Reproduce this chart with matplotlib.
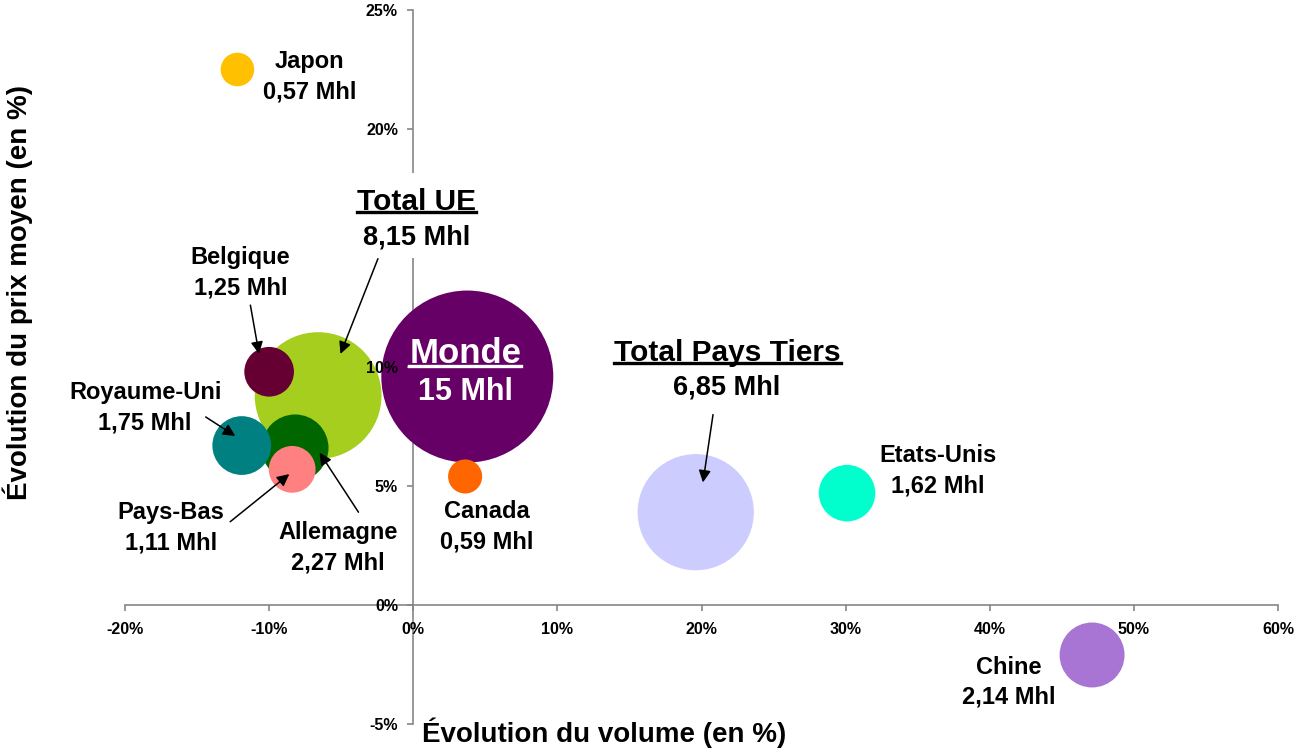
import matplotlib.pyplot as plt
from matplotlib.lines import Line2D
from matplotlib.patches import Rectangle
from matplotlib.ticker import FuncFormatter, MultipleLocator

plt.rcParams['font.family'] = ['Liberation Sans', 'DejaVu Sans']
plt.rcParams['font.weight'] = 'bold'

# data, in drawing order (big bubbles first)
names = ["Total UE", "Monde", "Total Pays Tiers", "Belgique", "Allemagne",
         "Royaume-Uni", "Pays-Bas", "Canada", "Japon", "Etats-Unis", "Chine"]
volume_mhl = [8.15, 15, 6.85, 1.25, 2.27, 1.75, 1.11, 0.59, 0.57, 1.62, 2.14]
vol_change = [-6.6, 3.75, 19.6, -10.0, -8.2, -11.9, -8.4, 3.6, -12.2, 30.1, 47.1]
price_change = [8.8, 9.6, 3.9, 9.8, 6.6, 6.7, 5.7, 5.4, 22.5, 4.7, -2.1]
colors = ["#A6CE1E", "#660066", "#CCCCFF", "#660033", "#006600",
          "#008080", "#FF8080", "#FF6600", "#FFC000", "#00FFCC", "#A975D4"]

# label placement (data coords)
label_pos = {
    "Japon": (-7.2, 22.2),
    "Belgique": (-12.0, 13.95),
    "Royaume-Uni": (-18.6, 8.3),
    "Pays-Bas": (-16.8, 3.25),
    "Allemagne": (-5.2, 2.4),
    "Canada": (5.1, 3.3),
    "Etats-Unis": (36.4, 5.65),
    "Chine": (41.3, -3.25),
}
title_pos = {
    "Total UE": ((0.2, 16.95), (0.25, 15.45), "black", 21.5, 19.5),
    "Total Pays Tiers": ((21.8, 10.6), (21.75, 9.15), "black", 21.5, 19.5),
    "Monde": ((3.6, 10.55), (3.6, 8.95), "white", 25, 22),
}
arrows = {
    "Belgique": ((-11.3, 12.6), (-10.7, 10.55)),
    "Total UE": ((-2.45, 14.55), (-5.05, 10.55)),
    "Royaume-Uni": ((-14.4, 7.9), (-12.35, 7.1)),
    "Pays-Bas": ((-12.7, 3.5), (-8.6, 5.5)),
    "Allemagne": ((-3.8, 3.9), (-6.5, 6.4)),
    "Total Pays Tiers": ((20.8, 8.0), (20.1, 5.15)),
}


def fmt_vol(v):
    return f"{v:g}".replace(".", ",") + " Mhl"


def fmt_y(v, pos):
    # the 15% label sits under the "Total UE" box in the original
    return "" if round(v) == 15 else f"{v:.0f}%"


fig = plt.figure(figsize=(12.98, 7.49), dpi=100)
ax = fig.add_axes([125 / 1298, 25 / 749, 1153 / 1298, 714 / 749])

ax.scatter(vol_change, price_change, s=[1022 * v for v in volume_mhl],
           c=colors, linewidths=0, zorder=1)

ax.set_xlim(-20, 60)
ax.set_ylim(-5, 25)
ax.xaxis.set_major_locator(MultipleLocator(10))
ax.yaxis.set_major_locator(MultipleLocator(5))
ax.xaxis.set_major_formatter(FuncFormatter(lambda v, p: f"{v:.0f}%"))
ax.yaxis.set_major_formatter(FuncFormatter(fmt_y))

for side in ("top", "right"):
    ax.spines[side].set_visible(False)
ax.spines["left"].set_position(("data", 0))
ax.spines["bottom"].set_position(("data", 0))
for side in ("left", "bottom"):
    ax.spines[side].set_color("#868686")
    ax.spines[side].set_linewidth(1.2)
    ax.spines[side].set_zorder(0.5)
ax.tick_params(axis="x", colors="#868686", length=4, width=1.2, pad=8,
               labelcolor="black", labelsize=11.5)
ax.tick_params(axis="y", colors="#868686", length=4, width=1.2, pad=7,
               labelcolor="black", labelsize=11.5)
ax.xaxis.set_zorder(3)
ax.yaxis.set_zorder(3)
for lbl in ax.get_xticklabels() + ax.get_yticklabels():
    lbl.set_fontweight("bold")

# white box behind the "Total UE" label (hides the axis there)
ax.add_patch(Rectangle((-4.4, 14.6), 9.0, 3.55, facecolor="white",
                       edgecolor="none", zorder=3.5))

for name, (x, y) in label_pos.items():
    i = names.index(name)
    ax.text(x, y, f"{name}\n{fmt_vol(volume_mhl[i])}", ha="center", va="center",
            fontsize=17, fontweight="bold", linespacing=1.4, zorder=4)

title_texts = []
for name, (tp, vp, col, ts, vs) in title_pos.items():
    i = names.index(name)
    t = ax.text(*tp, name, ha="center", va="center", fontsize=ts,
                fontweight="bold", color=col, zorder=4)
    ax.text(*vp, fmt_vol(volume_mhl[i]), ha="center", va="center", fontsize=vs,
            fontweight="bold", color=col, zorder=4)
    title_texts.append((t, col))

for name, (start, end) in arrows.items():
    ax.annotate("", xy=end, xytext=start, zorder=5,
                arrowprops=dict(arrowstyle="-|>", color="black", lw=1.1,
                                mutation_scale=18, shrinkA=0, shrinkB=0))

fig.text(18 / 1298, 1 - 292 / 749, "Évolution du prix moyen (en %)", rotation=90,
         ha="center", va="center", fontsize=20, fontweight="bold")
fig.text(422 / 1298, 1 - 733 / 749, "Évolution du volume (en %)",
         ha="left", va="center", fontsize=20, fontweight="bold")

# underline the group titles
fig.canvas.draw()
renderer = fig.canvas.get_renderer()
inv = fig.transFigure.inverted()
for t, col in title_texts:
    bb = t.get_window_extent(renderer)
    y = bb.y0 + 0.12 * bb.height
    (x0, y0), (x1, _) = inv.transform([(bb.x0, y), (bb.x1, y)])
    fig.add_artist(Line2D([x0, x1], [y0, y0], color=col, lw=2.4,
                          transform=fig.transFigure, zorder=6))

fig.savefig("out.png", dpi=100, facecolor="white")
